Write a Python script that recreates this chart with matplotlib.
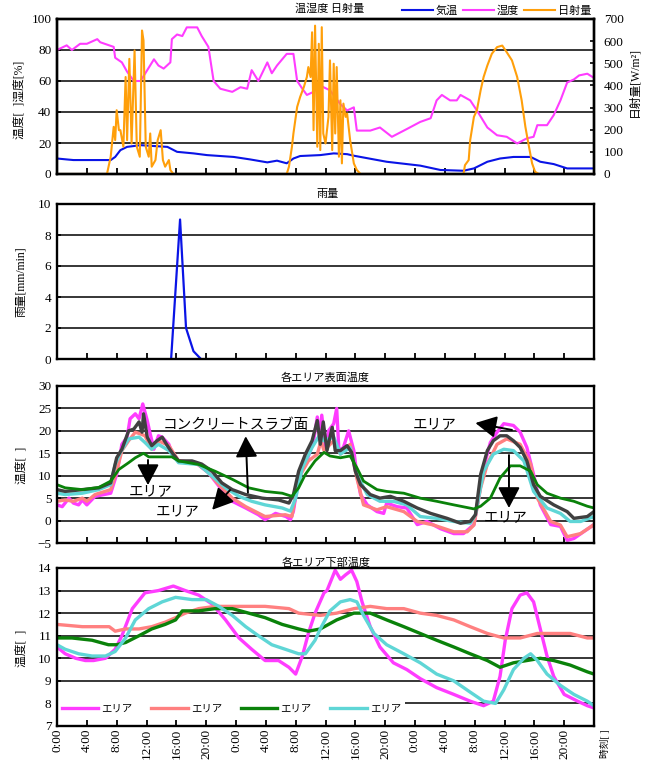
import numpy as np
import matplotlib
matplotlib.use('Agg')
import matplotlib.pyplot as plt
from matplotlib.font_manager import FontProperties

# ---------------- data (time in hours from 0:00 of day 1) ----------------
hum_t = [0, 1.3, 2, 3.1, 4, 5.4, 5.8, 6.7, 7.6, 7.8, 8.7, 9.4, 10.3, 11.2, 12.1, 13, 13.6, 14.3, 15.2, 15.4,
         16.1, 16.8, 17.4, 18.8, 19.4, 20.3, 21, 21.9, 23.5, 24.6, 25.5, 26.1, 27, 28.2, 28.8, 29.5, 30.8, 31.7,
         32.2, 32.9, 33.5, 34.4, 35.3, 36.6, 38, 38.9, 39.8, 40.2, 42, 43.3, 44.9, 46.9, 48.7, 50.1, 50.9, 51.6,
         52.7, 53.6, 54.1, 55.4, 56.3, 57.7, 59, 60.3, 61.7, 63, 63.9, 64.4, 65.7, 66.6, 67.5, 68.4, 69.3, 70,
         71.1, 72]
hum_v = [80, 83, 80, 84, 84, 87, 85, 83.5, 82, 75, 72, 66, 60, 60, 67, 74, 70, 68, 72, 87,
         90, 89, 94.6, 94.6, 89, 82, 60, 55, 53, 56, 55, 67, 60, 72, 65, 70, 77.5, 77.5,
         60, 55, 51, 53, 57, 54, 45, 41, 43, 28, 28, 30, 24, 29, 33.6, 36, 47.5, 51,
         47.5, 47.5, 51, 47.5, 41, 30, 25, 24, 19.7, 23, 24, 31.5, 31.5, 38, 47.5, 59, 61, 63.6,
         64.7, 62]

air_t = [0, 1.3, 2.2, 7.2, 7.8, 8.5, 9.4, 11.2, 14.8, 16.1, 18.3, 20.1, 23.7, 25.9, 28.2, 29.5, 30.8, 31.7,
         32.6, 35.3, 37.1, 38.9, 39.8, 42.5, 44.2, 48.7, 51.4, 54.5, 55.9, 57.7, 59.4, 61.2, 63.5, 64.8, 66.6,
         68.4, 72]
air_v = [10, 9.4, 9, 9, 11, 15.4, 17.5, 18.6, 17.5, 14.3, 13.3, 12.2, 11, 9.4, 7.5, 8.6, 6.9, 10,
         11.6, 12.2, 13.3, 12.8, 11.8, 9.4, 7.9, 5.4, 2.6, 2.1, 3.6, 7.9, 10, 11, 11, 7.9, 6.4,
         3.6, 3.6]

sol_t = [0, 6.7, 7.2, 7.6, 7.8, 8.0, 8.3, 8.5, 8.9, 9.2, 9.4, 9.7, 10.0, 10.4, 10.7, 11.1, 11.4, 11.6, 11.9,
         12.3, 12.5, 12.7, 13.2, 13.5, 13.9, 14.2, 14.5, 15.0, 15.2, 15.6, 30.8, 31.1, 31.5, 31.7, 32.2, 32.6,
         33.1, 33.5, 33.7, 34.0, 34.2, 34.4, 34.6, 34.9, 35.1, 35.3, 35.5, 35.7, 36.0, 36.4, 36.6, 36.9, 37.1,
         37.3, 37.5, 37.8, 38.0, 38.2, 38.4, 38.7, 38.9, 39.3, 39.8, 40.2, 40.7, 54.5, 54.7, 55.2, 55.4, 55.9,
         56.3, 56.8, 57.2, 57.7, 58.3, 59.0, 59.7, 60.3, 61.0, 61.7, 62.3, 62.8, 63.2, 63.7, 64.1, 64.6, 72]
sol_v = [0, 0, 78, 213, 153, 288, 198, 198, 123, 438, 153, 520, 138, 558, 123, 78, 648, 603, 123,
         78, 183, 33, 63, 153, 198, 63, 33, 63, 18, 0, 0, 33, 123, 183, 303, 348,
         393, 438, 483, 438, 640, 198, 670, 123, 588, 108, 663, 183, 138, 258, 513, 108, 498,
         183, 483, 78, 333, 48, 318, 258, 273, 153, 48, 18, 0, 0, 40, 63, 153, 258,
         288, 378, 438, 490, 543, 573, 580, 550, 513, 438, 333, 213, 138, 48, 10, 0, 0]

rain_t = [15.3, 16.5, 17.3, 18.3, 19.3]
rain_v = [0, 9, 2, 0.5, 0]

# surface temperatures
slab_t = [0, 1.1, 3.4, 5.6, 7.2, 8, 8.7, 9.6, 10.3, 11, 11.4, 11.6, 12.1, 12.7, 13.4, 14.1, 14.8, 15.4, 16.3,
          18.1, 19.4, 20.8, 22.1, 23.5, 25.3, 27.5, 29.7, 31.1, 31.7, 32.4, 33.3, 34.2, 34.9, 35.3, 35.7, 36.2,
          36.9, 37.3, 38, 38.9, 39.5, 40, 40.7, 42, 43.3, 44.7, 46.5, 48.3, 50.1, 52.3, 54.1, 55.4, 56.1, 56.8,
          57.7, 58.5, 59.4, 60.3, 61.2, 62.1, 63, 63.9, 64.8, 66.6, 68.4, 69.3, 71.1, 72]
slab_v = [6.9, 6.5, 6.9, 7.3, 8.4, 14, 15.9, 20, 20.4, 22, 19.7, 23.8, 18.6, 16.7, 17.8, 18.6, 16.7, 15.2, 13.3,
          13.3, 12.6, 11, 8.4, 6.9, 5.8, 5, 4.6, 3.9, 5.8, 11, 14.8, 17.8, 22.3, 17, 22, 15.6,
          20.8, 15.6, 15.6, 16.7, 15.2, 11, 8, 5.8, 5, 5.4, 4.3, 2.8, 1.6, 0.5, -0.6, -0.2, 1.3, 10.3,
          15.6, 17.8, 18.9, 18.9, 17.8, 16.3, 13.3, 8, 5.4, 3.5, 2, 0.5, 0.9, 2]

s1_t = [0, 0.7, 1.6, 2.2, 2.9, 3.4, 4, 5.1, 7.2, 8, 8.7, 9.4, 9.8, 10.5, 11, 11.5, 12.1, 12.5, 13, 13.6,
        14.1, 15, 15.4, 16.3, 18.6, 20.3, 21.7, 23.5, 25.3, 27, 27.9, 29.3, 30.7, 31.3, 31.7, 32.4, 33.5, 34.4,
        34.9, 35.3, 35.5, 36, 36.4, 37.1, 37.5, 37.8, 38.4, 39.1, 39.8, 40.2, 40.7, 41.6, 42.9, 43.8, 44.2,
        45.6, 46.9, 48.3, 49.6, 51.4, 53.2, 54.5, 55.9, 56.3, 57.2, 58.1, 59, 59.9, 61.2, 62.1, 63, 63.9,
        64.8, 66.2, 67.5, 68.4, 69.3, 70.6, 72]
s1_v = [3.5, 3.1, 5, 3.9, 3.5, 4.6, 3.5, 5.4, 6.1, 10.3, 17, 18.6, 22.7, 23.8, 22.7, 26, 22.3, 19.3, 15.9, 18.9,
        18.6, 17, 15.2, 13.3, 12.9, 10.7, 7.7, 4.3, 2.8, 1.3, 0.2, 1.6, 0.9, 0.2, 2.1, 9.5, 13.3, 17.8,
        23.1, 18.6, 23.5, 16.3, 20, 21.6, 25, 15.6, 16.3, 20, 15.6, 10.3, 5.8, 3.5, 2, 1.6, 3.9,
        3.1, 2.8, -0.9, -0.2, -1.8, -2.9, -2.9, -0.9, 2.8, 11.8, 17.4, 19.7, 21.6, 21.2, 19.7, 16.3, 10.3,
        3.5, -0.9, -1.3, -4.4, -4, -2.5, -0.9]

s2_t = [0, 1.1, 2.2, 3.4, 4, 5.1, 7.2, 8, 8.7, 9.6, 10.5, 11.2, 11.8, 12.7, 13.6, 15, 16.3, 18.6, 20.3, 21.7,
        23.5, 25.3, 27.9, 30.6, 31.5, 32.4, 33.7, 34.9, 35.4, 35.8, 37.1, 38, 39.3, 40.2, 41.1, 42.9, 44.2,
        46.5, 48.3, 50.5, 53.2, 55, 55.9, 56.8, 57.7, 59, 60.3, 62.1, 63.5, 64.4, 66.2, 67.5, 68.4, 70.2, 72]
s2_v = [4.3, 4.6, 4.3, 5, 4.3, 5.8, 6.9, 11, 15.6, 17.8, 19.7, 19.3, 18.9, 15.9, 17.8, 16.7, 13.3, 12.9, 10.7, 8,
        5, 3.1, 0.9, 1.3, 0.9, 9.5, 13.3, 14.8, 17.8, 15.6, 17.8, 14.8, 17, 9.5, 3.5, 2.4, 3.1,
        2, -0.2, -1, -2.5, -2.5, -1, 7.3, 12.6, 17, 18.2, 17, 12.6, 5, -0.2, -1, -3.6, -2.9, -0.9]

s3_t = [0, 1.1, 3.4, 5.6, 7.2, 8.3, 9.6, 10.5, 11.6, 12.3, 15.4, 16.3, 19, 21.2, 23.5, 25.7, 27.9, 30.2, 31.5,
        32.4, 33.3, 34.6, 35.8, 36.6, 38, 39.3, 40.2, 41.1, 42.9, 44.2, 46.5, 48.7, 50.9, 53.2, 55.9, 56.8,
        58.1, 59.4, 60.8, 62.1, 63.5, 64.4, 65.7, 67.5, 69.3, 71.1, 72]
s3_v = [8, 7.3, 6.9, 7.4, 8.8, 11.4, 12.9, 14, 15, 14.2, 14.2, 13.3, 12.5, 11, 9.2, 7.3, 6.5, 6.1, 5.4,
        7.3, 10.3, 13.3, 15.2, 14.4, 14, 14.4, 11.8, 8.8, 6.9, 6.5, 6.1, 5, 4.3, 3.5, 2.6, 3.2,
        5, 9.5, 12.2, 12.2, 11, 8, 6.1, 5, 4.3, 3.2, 2.8]

s4_t = [0, 1.1, 3.4, 5.6, 7.2, 7.8, 8.5, 9.6, 11, 11.8, 12.7, 13.6, 15, 16.3, 19, 20.8, 22.6, 24.4, 26.1, 27.9,
        30.2, 31.3, 32, 32.9, 34.2, 35.3, 35.7, 37.1, 38, 39.3, 40.2, 41.6, 43.3, 45.1, 46.9, 48.7, 50.9, 53.2,
        55.4, 56.1, 57.2, 58.5, 59.9, 61.2, 62.6, 63.9, 65.7, 67.5, 68.8, 70.2, 72]
s4_v = [6.1, 5.8, 6.1, 6.9, 8, 12.5, 15.2, 18.2, 18.6, 17.4, 15.9, 17, 15.6, 12.9, 12.5, 9.9, 7.3, 5.4, 4.3, 3.5,
        2.8, 2.1, 5, 11.8, 16.3, 19.3, 17.8, 18.6, 14.8, 16.3, 10.3, 5.8, 4.3, 4.3, 3.5, 0.9, 0.5, -0.2,
        -0.6, 1.3, 11, 14.8, 15.9, 15.6, 13.3, 6.5, 2.8, 1.6, -0.2, -0.2, 0.9]

# lower temperatures
l1_t = [0, 1.1, 2.5, 3.8, 4.9, 6.5, 7.8, 8.7, 10.1, 11.8, 13.6, 15.6, 17.2, 19, 20.8, 22.6, 24.4, 26.1, 27.9,
        29.7, 31.1, 32, 32.9, 33.7, 34.6, 35.8, 36.2, 37.3, 38, 38.7, 39.5, 40.2, 40.9, 42, 43.3, 45.1, 46.9,
        48.7, 50.9, 53.2, 55.4, 57.2, 58.5, 59.4, 60.1, 61, 62.1, 63, 63.9, 64.8, 65.7, 66.6, 68, 69.8, 71.1, 72]
l1_v = [10.5, 10.2, 10, 9.9, 9.9, 10, 10.4, 11, 12.2, 12.9, 13, 13.2, 13, 12.8, 12.4, 11.7, 10.9, 10.4, 9.9,
        9.9, 9.6, 9.3, 10.1, 11.1, 12, 12.9, 13, 13.9, 13.5, 13.7, 13.9, 13.4, 12.5, 11.4, 10.5, 9.8, 9.5,
        9.1, 8.7, 8.4, 8.1, 7.9, 8.1, 9.2, 10.8, 12.2, 12.8, 12.9, 12.5, 11.3, 10.1, 9.2, 8.4, 8.1, 7.9, 7.8]

l2_t = [0, 3.4, 7, 7.8, 9.2, 11, 12.7, 14.5, 15.9, 17.2, 19, 21.2, 23.5, 25.7, 27.9, 31.1, 32.4, 35.3, 37.5,
        39.8, 42, 44.2, 46.5, 48.7, 50.9, 53.2, 55.4, 57.7, 59.9, 62.1, 64.4, 66.6, 68.8, 71.1, 72]
l2_v = [11.5, 11.4, 11.4, 11.2, 11.3, 11.3, 11.4, 11.6, 11.8, 12, 12.2, 12.3, 12.3, 12.3, 12.3, 12.2, 12, 11.9, 12,
        12.2, 12.3, 12.2, 12.2, 12, 11.9, 11.7, 11.4, 11.1, 10.9, 10.9, 11.1, 11.1, 11.1, 10.9, 10.9]

l3_t = [0, 2, 4.7, 6.9, 8, 9.2, 11, 12.7, 14.5, 15.9, 16.8, 19, 21.2, 23.5, 25.7, 27.9, 30.2, 32.4, 33.7, 35.3,
        37.5, 39.8, 42, 44.2, 46.5, 48.7, 50.9, 53.2, 55.4, 57.7, 59.4, 61.2, 63, 64.8, 66.6, 68.8, 71.1, 72]
l3_v = [10.9, 10.9, 10.8, 10.6, 10.6, 10.7, 11, 11.3, 11.5, 11.7, 12.1, 12.1, 12.2, 12.2, 12, 11.8, 11.5, 11.3, 11.2,
        11.3, 11.7, 12, 12, 11.7, 11.4, 11.1, 10.8, 10.5, 10.2, 9.9, 9.6, 9.8, 9.9, 10, 9.9, 9.7, 9.4, 9.3]

l4_t = [0, 1.1, 2.9, 4.7, 6.5, 7.8, 9.2, 10.5, 12.3, 14.1, 15.9, 18.1, 20, 21.7, 23.5, 25.3, 27, 28.8, 30.6,
        32.4, 33.3, 34.6, 35.3, 36.6, 38, 39.3, 40.2, 41.1, 42.5, 44.2, 46.5, 48.7, 50.9, 53.2, 55.4, 57.2,
        58.8, 59.9, 61.2, 62.6, 63.5, 64.4, 65.7, 67.5, 69.3, 71.1, 72]
l4_v = [10.6, 10.4, 10.2, 10.1, 10.1, 10.3, 10.9, 11.7, 12.2, 12.5, 12.7, 12.6, 12.6, 12.3, 11.9, 11.4, 11, 10.6, 10.4,
        10.2, 10.2, 10.8, 11.3, 12.1, 12.5, 12.6, 12.5, 11.9, 11.1, 10.6, 10.2, 9.8, 9.3, 9, 8.5, 8.1,
        8, 8.6, 9.5, 10, 10.2, 9.9, 9.3, 8.8, 8.4, 8.1, 7.9]

tick_hours = list(range(0, 73, 4))
tick_labels = ['0:00', '4:00', '8:00', '12:00', '16:00', '20:00'] * 3 + ['']

legend1_labels = ['気温', '湿度', '日射量']
legend4_labels = ['エリア', 'エリア', 'エリア', 'エリア']

# ---------------- figure ----------------
W, H = 646, 760
fig = plt.figure(figsize=(W / 100, H / 100), dpi=100)
SERIF = ['Liberation Serif', 'Noto Sans CJK JP']
JP = ['Noto Sans CJK JP', 'DejaVu Sans']
plt.rcParams['font.family'] = SERIF

C_BLUE = '#0a14e6'
C_MAG = '#ff3cff'
C_ORANGE = '#ff9f0a'
C_SALMON = '#ff8080'
C_GREEN = '#0a820a'
C_CYAN = '#5fd6d6'
C_GRAY = '#404040'
TICK_FS = 9.5


def rect(left, top, right, bottom):
    return [left / W, 1 - bottom / H, (right - left) / W, (bottom - top) / H]


def style(ax, ylim, yticks):
    ax.set_xlim(0, 72)
    ax.set_ylim(*ylim)
    ax.set_xticks(tick_hours)
    ax.set_yticks(yticks)
    ax.set_axisbelow(True)
    ax.grid(axis='y', color='black', lw=1.1)
    for s in ax.spines.values():
        s.set_linewidth(1.7)
        s.set_zorder(6)
    ax.tick_params(axis='x', direction='in', length=4, width=1.3, labelbottom=False, top=False)
    ax.tick_params(axis='y', direction='in', length=3, width=1.2, labelsize=TICK_FS, pad=4, right=False)


def ftext(x, y, s, **kw):
    fig.text(x / W, 1 - y / H, s, **kw)


# Panel 1
ax1 = fig.add_axes(rect(57, 19, 594, 174))
style(ax1, (0, 100), range(0, 101, 20))
lh, = ax1.plot(hum_t, hum_v, color=C_MAG, lw=1.5, zorder=3)
la, = ax1.plot(air_t, air_v, color=C_BLUE, lw=1.5, zorder=3)
ax1r = ax1.twinx()
ax1r.set_ylim(0, 700)
ax1r.set_yticks(range(0, 701, 100))
ax1r.tick_params(axis='y', direction='in', length=3, width=1.2, labelsize=TICK_FS, pad=7)
for s in ax1r.spines.values():
    s.set_linewidth(1.7)
ls, = ax1r.plot(sol_t, sol_v, color=C_ORANGE, lw=1.5)
fig.legend([la, lh, ls], legend1_labels, loc='center right', bbox_to_anchor=(591 / W, 1 - 11 / H),
           ncol=3, frameon=False, prop=FontProperties(family=JP, size=8), handlelength=2.8,
           handletextpad=0.2, columnspacing=0.5, borderpad=0, borderaxespad=0)
ftext(330, 9, '温湿度 日射量', family=JP, fontsize=8, ha='center', va='center')
ftext(20, 100, '温度[  ]湿度[%]', rotation=90, ha='center', va='center', fontsize=8.5)
ftext(634, 82, '日射量[W/m²]', rotation=90, ha='center', va='center', fontsize=8.5)

# Panel 2
ax2 = fig.add_axes(rect(57, 204, 594, 359))
style(ax2, (0, 10), range(0, 11, 2))
ax2.plot(rain_t, rain_v, color=C_BLUE, lw=1.6, zorder=3)
ftext(328, 194, '雨量', family=JP, fontsize=8, ha='center', va='center')
ftext(21, 282, '雨量[mm/min]', rotation=90, ha='center', va='center', fontsize=8.5)

# Panel 3
ax3 = fig.add_axes(rect(57, 386, 594, 543))
style(ax3, (-5, 30), range(-5, 31, 5))
ax3.plot(s1_t, s1_v, color=C_MAG, lw=2.4, zorder=3)
ax3.plot(s2_t, s2_v, color=C_SALMON, lw=2.4, zorder=3)
ax3.plot(s4_t, s4_v, color=C_CYAN, lw=2.4, zorder=3)
ax3.plot(slab_t, slab_v, color=C_GRAY, lw=2.4, zorder=3)
ax3.plot(s3_t, s3_v, color=C_GREEN, lw=2.0, zorder=3)
ftext(325, 378, '各エリア表面温度', family=JP, fontsize=8, ha='center', va='center')
ftext(21, 465, '温度[  ]', rotation=90, ha='center', va='center', fontsize=8.5)

annots = [
    ('コンクリートスラブ面', (24.0, 21.3), (25.6, 6.2), (25.3, 18.8)),
    ('エリア', (12.5, 6.6), (12.2, 13.5), (12.2, 7.9)),
    ('エリア', (16.2, 2.1), (23.2, 6.8), (20.8, 2.4)),
    ('エリア', (50.7, 21.5), (61.0, 20.2), (56.1, 21.75)),
    ('エリア', (60.1, 0.8), (60.6, 14.6), (60.6, 2.8)),
]
for txt, pos, a_from, a_to in annots:
    ax3.text(pos[0], pos[1], txt, family=JP, fontsize=10.5, ha='center', va='center', zorder=7)
    ax3.annotate('', xy=a_to, xytext=a_from, zorder=7,
                 arrowprops=dict(arrowstyle='-|>,head_length=0.8,head_width=0.42', color='black',
                                 lw=1.4, mutation_scale=16, shrinkA=0, shrinkB=0))

# Panel 4
ax4 = fig.add_axes(rect(57, 568, 594, 726))
style(ax4, (7, 14), range(7, 15, 1))
p1, = ax4.plot(l1_t, l1_v, color=C_MAG, lw=2.4, zorder=3)
p2, = ax4.plot(l2_t, l2_v, color=C_SALMON, lw=2.4, zorder=3)
p3, = ax4.plot(l3_t, l3_v, color=C_GREEN, lw=2.4, zorder=3)
p4, = ax4.plot(l4_t, l4_v, color=C_CYAN, lw=2.4, zorder=3)
ax4.tick_params(axis='x', labelbottom=True, pad=2, labelsize=TICK_FS)
ax4.set_xticklabels(tick_labels, rotation=90, va='top', ha='center')
leg = ax4.legend([p1, p2, p3, p4], legend4_labels, ncol=4, loc='center left',
                 bbox_to_anchor=(57 / W, 1 - 709 / H), bbox_transform=fig.transFigure,
                 prop=FontProperties(family=JP, size=7.5), handlelength=3.5, handletextpad=0.3,
                 columnspacing=1.8, frameon=True, facecolor='white', edgecolor='none', framealpha=1,
                 fancybox=False, borderpad=0.45, borderaxespad=0)
ftext(326, 563, '各エリア下部温度', family=JP, fontsize=8, ha='center', va='center')
ftext(21, 648, '温度[  ]', rotation=90, ha='center', va='center', fontsize=8.5)
ftext(605, 729, '時刻[ ]', rotation=90, ha='center', va='top', fontsize=7)

fig.savefig('out.png', dpi=100)
